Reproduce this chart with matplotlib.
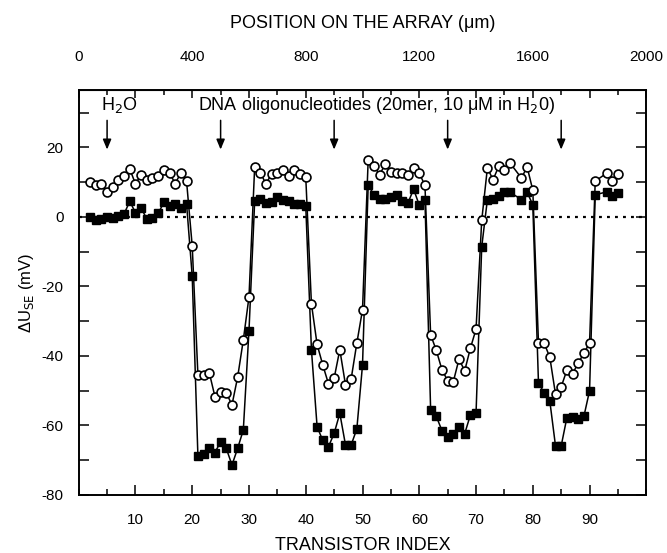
import matplotlib
matplotlib.use("Agg")
import matplotlib.pyplot as plt
from matplotlib.ticker import MultipleLocator, FixedLocator, FixedFormatter

plt.rcParams['font.family'] = ['Liberation Sans', 'DejaVu Sans']
plt.rcParams['axes.unicode_minus'] = False

# transistor indices (77 and 92 have no reading)
index = list(range(2, 77)) + [78, 79, 80] + list(range(81, 92)) + [93, 94, 95]

# open circles
u_open = [10.0, 9.3, 9.6, 7.1, 8.6, 10.5, 11.9, 13.8, 9.5, 12.2, 10.7, 11.2, 11.9, 13.4, 12.7, 9.6, 12.7, 10.3,
          -8.4,
          -45.4, -45.4, -44.8, -51.7, -50.4, -50.6, -54.1, -46.1, -35.4, -23.0,
          14.4, 12.7, 9.5, 12.5, 12.7, 13.4, 11.7, 13.4, 12.5, 11.5,
          -25.0, -36.7, -42.6, -48.0, -46.4, -38.2, -48.3, -46.6, -36.3, -26.7,
          16.5, 14.7, 12.2, 15.1, 12.8, 12.7, 12.7, 12.2, 14.2, 12.6, 9.1,
          -33.9, -38.4, -44.0, -47.1, -47.4, -40.9, -44.3, -37.8, -32.3,
          -1.0, 14.1, 10.7, 14.6, 13.6, 15.5,
          11.2, 14.4, 7.7,
          -36.3, -36.3, -40.4, -51.0, -48.9, -44.1, -45.1, -42.1, -39.2, -36.3,
          10.3,
          12.6, 10.4, 12.3]

# filled squares
u_filled = [0.0, -1.0, -0.6, 0.0, -0.3, 0.4, 0.9, 4.5, 1.2, 2.6, -0.6, -0.3, 1.0, 4.2, 3.1, 3.8, 2.6, 3.8,
            -17.1,
            -68.8, -68.2, -66.6, -67.8, -64.7, -66.6, -71.4, -66.6, -61.3, -32.7,
            4.5, 5.1, 3.9, 4.2, 5.8, 5.0, 4.5, 3.7, 3.6, 3.2,
            -38.2, -60.4, -64.3, -66.1, -62.3, -56.5, -65.6, -65.6, -61.0, -42.6,
            9.2, 6.4, 5.1, 5.2, 5.8, 6.2, 4.7, 4.0, 8.0, 3.4, 4.9,
            -55.5, -57.4, -61.5, -63.2, -62.4, -60.5, -62.4, -57.0, -56.5,
            -8.6, 5.0, 5.2, 6.1, 7.1, 7.1,
            5.0, 7.1, 3.5,
            -47.8, -50.6, -53.0, -65.9, -65.9, -57.8, -57.5, -58.1, -57.4, -50.0,
            6.4,
            7.2, 6.0, 7.0]

arrow_index = [5, 25, 45, 65, 85]
bottom_ticks = [10, 20, 30, 40, 50, 60, 70, 80, 90]
top_ticks = [0, 200, 400, 600, 800, 1000, 1200, 1400, 1600, 1800, 2000]
top_labels = ['0', '', '400', '', '800', '', '1200', '', '1600', '', '2000']
y_ticks = [-80, -60, -40, -20, 0, 20]

fig = plt.figure(figsize=(6.67, 5.53), dpi=100)
ax = fig.add_axes([0.118, 0.105, 0.851, 0.732])

ax.plot([0, 100], [0, 0], color='black', lw=1.6, linestyle=(0, (1.3, 2.3)), zorder=1)
ax.plot(index, u_filled, color='black', lw=1.1, marker='s', ms=5.6,
        markerfacecolor='black', markeredgecolor='black', zorder=2)
ax.plot(index, u_open, color='black', lw=1.1, marker='o', ms=6.4,
        markerfacecolor='white', markeredgecolor='black', markeredgewidth=1.2, zorder=3)

for i in arrow_index:
    ax.annotate('', xy=(i, 18.6), xytext=(i, 28.6),
                arrowprops=dict(arrowstyle='-|>,head_length=0.6,head_width=0.25',
                                color='black', lw=1.1))

ax.text(4.0, 30.9, 'H$_2$O', fontsize=13, ha='left', va='baseline')
ax.text(21.0, 30.9, 'DNA oligonucleotides (20mer, 10 \u03bcM in H$_2$0)',
        fontsize=13, ha='left', va='baseline')

ax.set_xlim(0, 100)
ax.set_ylim(-80, 36.5)
ax.xaxis.set_major_locator(FixedLocator(bottom_ticks))
ax.xaxis.set_minor_locator(MultipleLocator(5))
ax.set_yticks(y_ticks)
ax.yaxis.set_minor_locator(MultipleLocator(10))
ax.tick_params(which='both', direction='in', top=False, right=True, labelsize=11, width=1.1)
ax.tick_params(which='major', length=7)
ax.tick_params(which='minor', length=4)
ax.tick_params(axis='x', which='major', pad=13)
ax.tick_params(axis='y', which='both', length=7, pad=11)
for s in ax.spines.values():
    s.set_linewidth(1.4)

ax.set_xlabel('TRANSISTOR INDEX', fontsize=13, labelpad=7)
ax.set_ylabel('\u0394U$_{\\rm SE}$ (mV)', fontsize=12, labelpad=4)

sec = ax.secondary_xaxis('top', functions=(lambda x: x * 20, lambda x: x / 20))
sec.xaxis.set_major_locator(FixedLocator(top_ticks))
sec.xaxis.set_major_formatter(FixedFormatter(top_labels))
sec.xaxis.set_minor_locator(MultipleLocator(100))
sec.tick_params(which='both', direction='in', labelsize=11, width=1.1)
sec.tick_params(which='major', length=6, pad=19)
sec.tick_params(which='minor', length=3.5)
sec.set_xlabel('POSITION ON THE ARRAY (\u03bcm)', fontsize=13, labelpad=16)

fig.savefig('out.png', dpi=100)
